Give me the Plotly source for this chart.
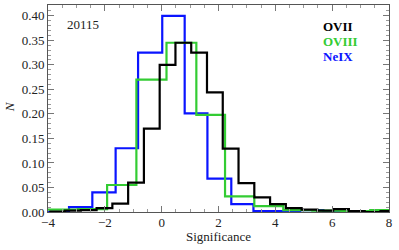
import plotly.graph_objects as go

# Bin edges and normalized counts per line
edges_ovii = [-3.955, -3.40, -2.845, -2.29, -1.735, -1.18, -0.625, -0.07, 0.485, 1.04,
              1.595, 2.15, 2.705, 3.26, 3.815, 4.37, 4.925, 5.48, 6.035, 6.59, 7.145, 7.70, 8.255]
n_ovii = [0.001, 0.003, 0.004, 0.008, 0.017, 0.060, 0.170, 0.300, 0.345, 0.325,
          0.244, 0.129, 0.059, 0.030, 0.016, 0.008, 0.005, 0.003, 0.006, 0.002, 0.000, 0.002]

edges_oviii = [-4.0, -2.95, -1.92, -0.89, 0.17, 1.22, 2.23, 3.26, 4.28, 5.30, 6.32, 7.34, 8.36]
n_oviii = [0.005, 0.006, 0.055, 0.270, 0.345, 0.198, 0.032, 0.012, 0.004, 0.003, 0.002, 0.004]

edges_neix = [-4.08, -3.26, -2.44, -1.62, -0.83, 0.02, 0.81, 1.61, 2.45, 3.23, 4.05, 4.87, 5.69, 6.51]
n_neix = [0.000, 0.010, 0.040, 0.130, 0.325, 0.400, 0.201, 0.068, 0.016, 0.002, 0.002, 0.004, 0.002]

series = [
    ("OVII", edges_ovii, n_ovii, "#000000"),
    ("OVIII", edges_oviii, n_oviii, "#33cc33"),
    ("NeIX", edges_neix, n_neix, "#0a14ff"),
]

fig = go.Figure()
for name, e, n, c in [series[2], series[1], series[0]]:
    fig.add_trace(go.Scatter(x=e, y=list(n) + [n[-1]], mode="lines",
                             line=dict(shape="hv", color=c, width=2.2),
                             name=name, showlegend=False, cliponaxis=True,
                             hoverinfo="skip"))

font = "Liberation Serif, serif"
txtcol = "#222222"
axcommon = dict(showgrid=False, zeroline=False, showline=True, linecolor="#555555",
                linewidth=1, mirror="allticks", ticks="inside", tickcolor="#777777",
                automargin=False, ticklabeloverflow="allow",
                tickfont=dict(family=font, size=13, color=txtcol))

fig.update_xaxes(range=[-4, 8], dtick=2, tick0=-4, ticklen=6, ticklabelstandoff=-2,
                 minor=dict(dtick=0.5, ticks="inside", ticklen=3, tickcolor="#999999"),
                 **axcommon)
fig.update_yaxes(range=[0, 0.422], dtick=0.05, tick0=0, ticklen=6, tickformat=".2f",
                 minor=dict(dtick=0.01, ticks="inside", ticklen=3, tickcolor="#999999"),
                 **axcommon)

fig.add_annotation(text="Significance", x=0.5, y=-0.12, xref="paper", yref="paper",
                   xanchor="center", yanchor="middle", showarrow=False,
                   font=dict(family=font, size=13, color=txtcol))
fig.add_annotation(text="<i>N</i>", x=-0.112, y=0.51, xref="paper", yref="paper",
                   xanchor="center", yanchor="middle", showarrow=False, textangle=-90,
                   font=dict(family=font, size=13, color=txtcol))
fig.add_annotation(text="20115", x=0.05, y=0.905, xref="paper", yref="paper",
                   xanchor="left", yanchor="middle", showarrow=False,
                   font=dict(family=font, size=13, color=txtcol))
for i, (name, e, n, c) in enumerate(series):
    fig.add_annotation(text="<b>%s</b>" % name, x=0.80, y=0.895 - i * 0.073,
                       xref="paper", yref="paper", xanchor="left", yanchor="middle",
                       showarrow=False, font=dict(family=font, size=13, color=c))

fig.update_layout(width=399, height=250, margin=dict(l=48, r=10, t=5, b=38, autoexpand=False),
                  font=dict(family=font),
                  plot_bgcolor="white", paper_bgcolor="white", showlegend=False)
fig.write_html("out.html", post_script="document.body.style.margin='0px';",
               config={"displayModeBar": False, "staticPlot": True})
